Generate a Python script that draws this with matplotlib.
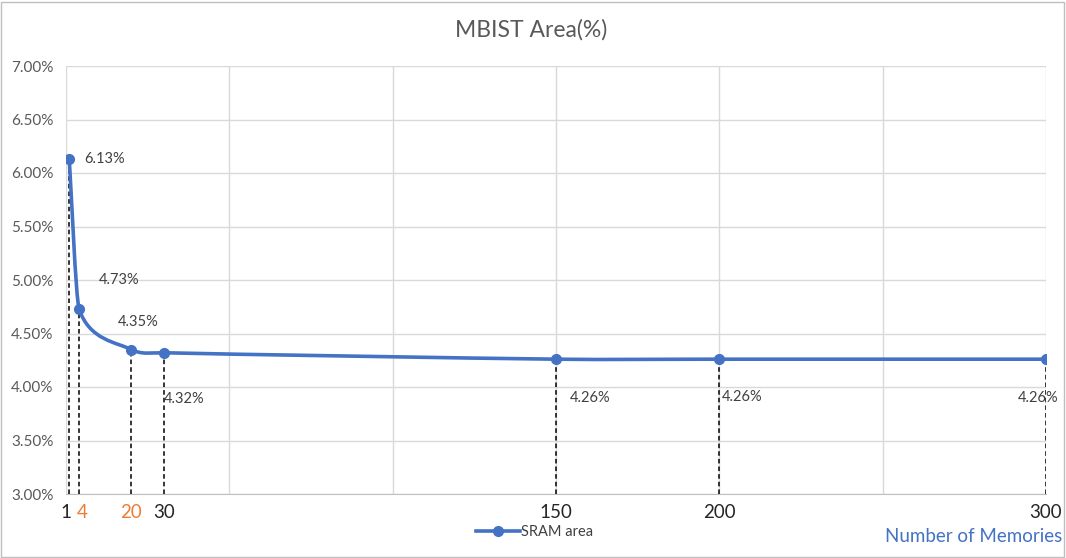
import numpy as np
import matplotlib.pyplot as plt
from matplotlib.path import Path
from matplotlib.patches import PathPatch, Rectangle

plt.rcParams['font.family'] = ['Lato', 'DejaVu Sans']

# data
memories = [1, 4, 20, 30, 150, 200, 300]
area_pct = [6.13, 4.73, 4.35, 4.32, 4.26, 4.26, 4.26]
tick_colors = ['#262626', '#ED7D31', '#ED7D31', '#262626', '#262626', '#262626', '#262626']
y_ticks = [3.0, 3.5, 4.0, 4.5, 5.0, 5.5, 6.0, 6.5, 7.0]

# label offsets in points (dx, dy, ha)
label_pos = [(11, 0, 'left'), (14, 21, 'left'), (-10, 20, 'left'),
             (0, -33, 'left'), (10, -28, 'left'), (2, -27, 'left'), (-20, -28, 'left')]

blue = '#4472C4'

fig = plt.figure(figsize=(10.66, 5.58), dpi=100)
ax = fig.add_axes([66 / 1066, 1 - 494 / 558, 980 / 1066, 428 / 558])

# smoothed line like Excel: cubic bezier, control points clipped so the curve can't loop
pts = np.column_stack([memories, area_pct]).astype(float)
n = len(pts)
tang = []
for i in range(n):
    a = pts[max(i - 1, 0)]
    b = pts[min(i + 1, n - 1)]
    tang.append((b - a) / 6)
verts = [pts[0]]
codes = [Path.MOVETO]
for i in range(n - 1):
    dx = pts[i + 1][0] - pts[i][0]
    t1 = tang[i] * min(1.0, dx / 3 / tang[i][0])
    t2 = tang[i + 1] * min(1.0, dx / 3 / tang[i + 1][0])
    verts += [pts[i] + t1, pts[i + 1] - t2, pts[i + 1]]
    codes += [Path.CURVE4] * 3
ax.add_patch(PathPatch(Path(verts, codes), facecolor='none', edgecolor=blue, lw=2.6,
                       capstyle='round', zorder=4))
ax.plot(memories, area_pct, 'o', color=blue, ms=7, zorder=5)
ax.plot([], [], '-o', color=blue, lw=2.6, ms=7, label='SRAM area')

# drop lines
ax.vlines(memories, 3.0, area_pct, colors='black', linestyles=(0, (3, 2)), lw=1.1, zorder=3)

for x, y, (dx, dy, ha) in zip(memories, area_pct, label_pos):
    ax.annotate(f'{y:.2f}%', (x, y), xytext=(dx, dy), textcoords='offset points',
                ha=ha, va='center', fontsize=10.5, color='#404040', zorder=6)

ax.set_xlim(0, 300)
ax.set_ylim(3.0, 7.0)
ax.set_xticks(np.arange(0, 301, 50))
ax.set_xticklabels([])
ax.tick_params(axis='x', length=0)
ax.set_yticks(y_ticks)
ax.set_yticklabels([f'{v:.2f}%' for v in y_ticks], fontsize=11, color='#595959')
ax.tick_params(axis='y', length=0, pad=9)
ax.grid(True, color='#d9d9d9', lw=1)
ax.set_axisbelow(True)
for s in ['top', 'right', 'left']:
    ax.spines[s].set_visible(False)
ax.spines['bottom'].set_color('#bfbfbf')

for x, c in zip(memories, tick_colors):
    dx = 1.0 if x == 4 else (-1.0 if x == 1 else 0)
    ax.text(x + dx, 2.825, str(x), ha='center', va='center', fontsize=13.5, color=c)

fig.text(1062 / 1066, 1 - 536 / 558, 'Number of Memories', ha='right', va='center',
         fontsize=13.5, color=blue)

fig.text(0.498, 1 - 30 / 558, 'MBIST Area(%)', ha='center', va='center', fontsize=16.5,
         color='#595959')

ax.legend(loc='upper center', bbox_to_anchor=(0.478, -0.042), frameon=False, fontsize=10.5,
          labelcolor='#404040', handlelength=3, handletextpad=0.1)

fig.patches.append(Rectangle((0.001, 0.002), 0.997, 0.995, transform=fig.transFigure,
                             fill=False, edgecolor='#bfbfbf', lw=1))

fig.savefig('out.png', dpi=100)
